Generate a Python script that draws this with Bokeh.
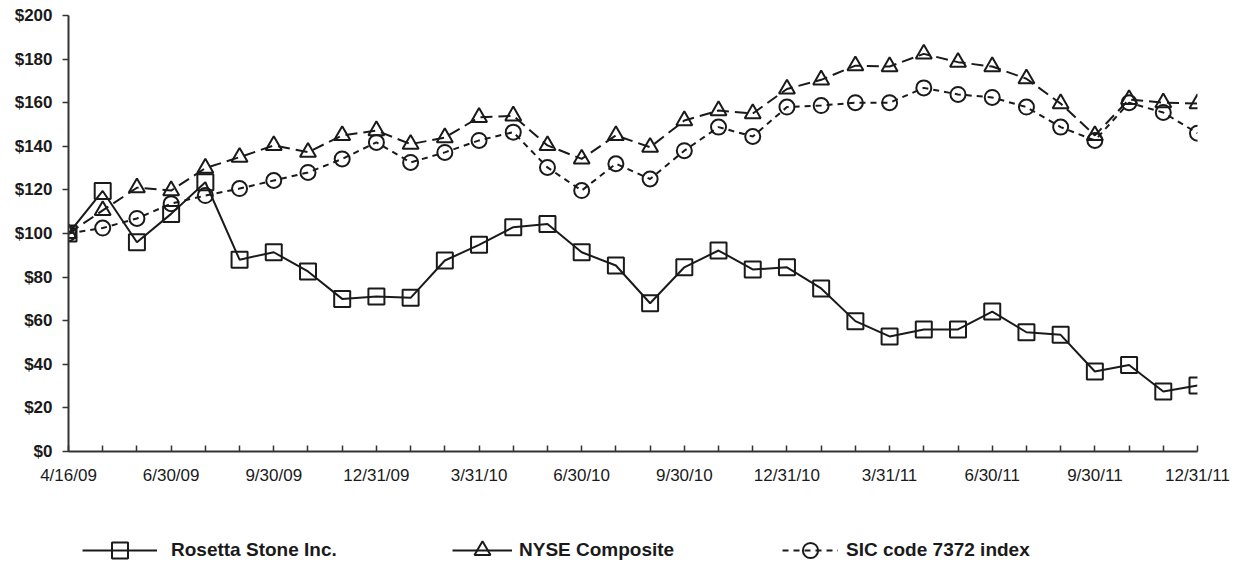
from bokeh.plotting import figure
from bokeh.layouts import column
from bokeh.models import Range1d, FixedTicker, Legend, LegendItem
from bokeh.embed import file_html
from bokeh.resources import INLINE

dates = ["4/16/09", "4/30/09", "5/31/09", "6/30/09", "7/31/09", "8/31/09", "9/30/09",
         "10/31/09", "11/30/09", "12/31/09", "1/31/10", "2/28/10", "3/31/10", "4/30/10",
         "5/31/10", "6/30/10", "7/31/10", "8/31/10", "9/30/10", "10/31/10", "11/30/10",
         "12/31/10", "1/31/11", "2/28/11", "3/31/11", "4/30/11", "5/31/11", "6/30/11",
         "7/31/11", "8/31/11", "9/30/11", "10/31/11", "11/30/11", "12/31/11"]
tick_labels = ["4/16/09", "6/30/09", "9/30/09", "12/31/09", "3/31/10", "6/30/10",
               "9/30/10", "12/31/10", "3/31/11", "6/30/11", "9/30/11", "12/31/11"]
y_ticks = [0, 20, 40, 60, 80, 100, 120, 140, 160, 180, 200]
y_tick_labels = ["$0", "$20", "$40", "$60", "$80", "$100", "$120", "$140", "$160", "$180", "$200"]

rosetta = [100, 119.5, 96, 109, 123.5, 88, 91.4, 82.6, 70, 71.1, 70.5, 87.6, 94.8, 102.9,
           104.4, 91.4, 85.3, 68, 84.5, 92.2, 83.5, 84.5, 74.8, 59.8, 52.8, 56, 56, 64.2,
           54.7, 53.5, 36.7, 39.7, 27.5, 30.3]
nyse = [100, 110.6, 121, 119.7, 130, 135, 140.4, 137.3, 145, 147.2, 141, 144, 153.3, 154,
        140.4, 134.2, 145, 139.6, 151.8, 156.4, 155, 166.3, 170.5, 177, 176.6, 182.4, 178.6,
        176.6, 171, 159.6, 145, 161.5, 160, 159.6]
sic = [100, 102.5, 106.9, 113.7, 117.4, 120.6, 124.3, 128, 134.2, 141.8, 132.6, 137.2, 142.7,
       146.5, 130.3, 119.7, 132, 125, 138, 148.8, 144.5, 158, 158.7, 160, 160, 166.8, 163.8,
       162.4, 158, 148.8, 142.7, 160, 155.5, 146]
series_names = ["Rosetta Stone Inc.", "NYSE Composite", "SIC code 7372 index"]

x = list(range(len(dates)))
INK = "#1a1a1a"
FONT = "Liberation Sans"
W = 1240

p = figure(width=W, height=500, x_range=Range1d(0, len(dates) - 1), y_range=Range1d(0, 200),
           output_backend="svg", toolbar_location=None,
           min_border_left=68, min_border_right=43, min_border_top=15, min_border_bottom=49)
p.outline_line_color = None
p.xgrid.visible = False
p.ygrid.visible = False

sic_line = p.line(x, sic, line_color=INK, line_width=2, line_dash="6 5")
sic_pts = p.scatter(x, sic, marker="circle", size=15, fill_color=None, line_color=INK, line_width=2)
nyse_line = p.line(x, nyse, line_color=INK, line_width=2, line_dash="12 6")
nyse_pts = p.scatter(x, nyse, marker="triangle", size=16, fill_color=None, line_color=INK, line_width=2)
ros_line = p.line(x, rosetta, line_color=INK, line_width=2)
ros_pts = p.scatter(x, rosetta, marker="square", size=16, fill_color=None, line_color=INK, line_width=2)

ax = p.xaxis[0]
ax.ticker = FixedTicker(ticks=x)
ax.major_label_overrides = {i: (d if d in tick_labels else "") for i, d in zip(x, dates)}
ax.major_tick_in = 6
ax.major_tick_out = 0
ax.minor_tick_line_color = None
ax.axis_line_width = 2
ax.axis_line_color = "#333333"
ax.major_tick_line_color = "#333333"
ax.major_tick_line_width = 1.5
ax.major_label_standoff = 14
ax.major_label_text_font = FONT
ax.major_label_text_font_size = "17px"
ax.major_label_text_color = INK

ay = p.yaxis[0]
ay.ticker = FixedTicker(ticks=y_ticks)
ay.major_label_overrides = {v: s for v, s in zip(y_ticks, y_tick_labels)}
ay.major_tick_in = 0
ay.major_tick_out = 6
ay.minor_tick_line_color = None
ay.axis_line_width = 2
ay.axis_line_color = "#333333"
ay.major_tick_line_color = "#333333"
ay.major_tick_line_width = 1.5
ay.major_label_standoff = 10
ay.major_label_text_font = FONT
ay.major_label_text_font_style = "bold"
ay.major_label_text_font_size = "17px"
ay.major_label_text_color = INK

# legend strip below the chart (series drawn out of view; only the legend shows)
lg = figure(width=W, height=60, x_range=Range1d(0, 1), y_range=Range1d(1000, 1001),
            output_backend="svg", toolbar_location=None, x_axis_type=None, y_axis_type=None,
            min_border_left=0, min_border_right=0, min_border_top=0, min_border_bottom=0)
lg.outline_line_color = None
lg.xgrid.visible = False
lg.ygrid.visible = False

l_ros = [lg.line(x, rosetta, line_color=INK, line_width=2),
         lg.scatter(x, rosetta, marker="square", size=16, fill_color=None, line_color=INK, line_width=2)]
l_nyse = [lg.line(x, nyse, line_color=INK, line_width=2),
          lg.scatter(x, nyse, marker="triangle", size=16, fill_color=None, line_color=INK, line_width=2)]
l_sic = [lg.line(x, sic, line_color=INK, line_width=2, line_dash="6 5"),
         lg.scatter(x, sic, marker="circle", size=15, fill_color=None, line_color=INK, line_width=2)]

# (label, renderers, x offset, glyph width, glyph height, standoff)
specs = [(series_names[0], l_ros, 14, 75, 40, 14),
         (series_names[1], l_nyse, 384, 60, 40, 7),
         (series_names[2], l_sic, 714, 56, 38, 8)]
for name, rends, lx, gw, gh, so in specs:
    leg = Legend(items=[LegendItem(label=name, renderers=rends)], location=(lx, -(gh // 2) + 10),
                 glyph_width=gw, glyph_height=gh, label_standoff=so, padding=0, margin=0,
                 border_line_color=None, background_fill_alpha=0,
                 label_text_font=FONT, label_text_font_style="bold",
                 label_text_font_size="19px", label_text_color=INK)
    lg.add_layout(leg, "center")

layout = column(p, lg, spacing=0)
open("out.html", "w").write(file_html(layout, INLINE))
